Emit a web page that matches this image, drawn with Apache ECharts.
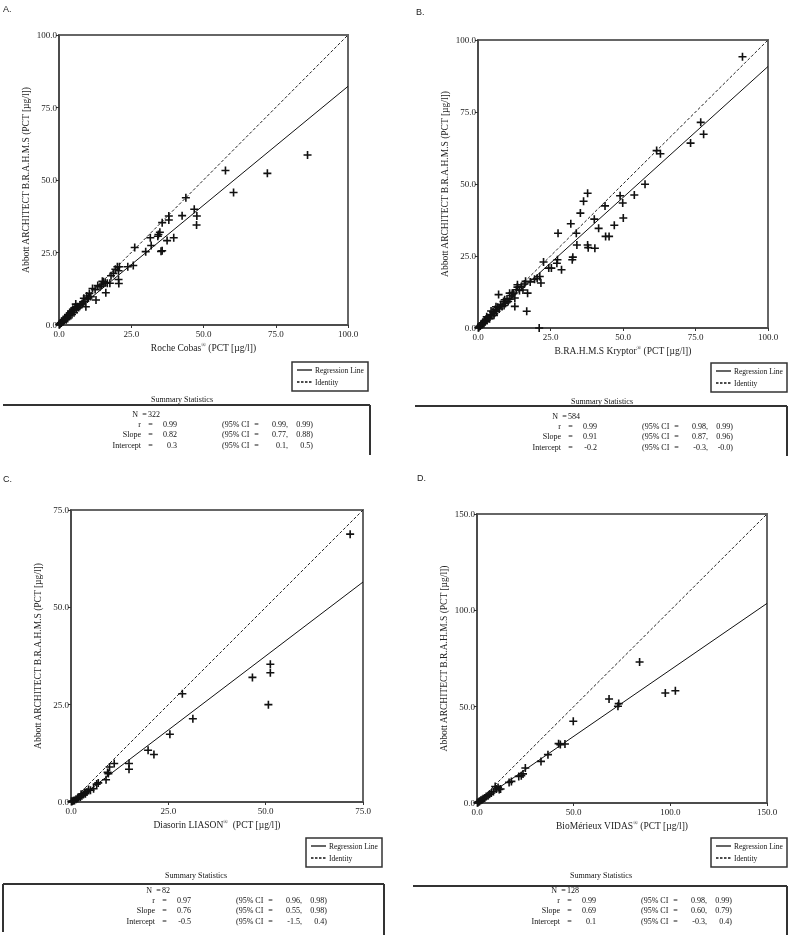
<!DOCTYPE html>
<html><head><meta charset="utf-8">
<script src="https://cdn.jsdelivr.net/npm/echarts@6/dist/echarts.min.js"></script>
<style>html,body{margin:0;padding:0;background:#fff}#c{width:791px;height:935px}#c svg{filter:grayscale(1)}</style>
</head><body><div id="c"></div>
<script>
// ---------- DATA ----------
const panelLabels = ['A.', 'B.', 'C.', 'D.'];
const xNames = ['Roche Cobas{s|®} (PCT [µg/l])', 'B.RA.H.M.S Kryptor{s|®} (PCT [µg/l])', 'Diasorin LIASON{s|®}  (PCT [µg/l])', 'BioMérieux VIDAS{s|®} (PCT [µg/l])'];
const yName = 'Abbott ARCHITECT B.R.A.H.M.S (PCT [µg/l])';
const axisMax = [100, 100, 75, 150];
const axisStep = [25, 25, 25, 50];
const slopes = [0.82, 0.91, 0.76, 0.69];
const intercepts = [0.3, -0.2, -0.5, 0.1];

const aX = [86.0,72.1,60.4,57.6,43.9,46.8,47.7,47.6,42.6,38.0,38.0,35.7,34.9,34.4,34.2,31.6,31.9,39.7,37.4,35.7,35.3,30.0,26.2,25.7,23.8,20.9,20.2,20.6,20.6,20.7,18.8,16.7,16.2,14.7,14.2,15.4,17.6,12.8,11.6,10.5,9.6,9.3,8.4,7.3,6.3,6.1,5.0,4.4,
  5.8,5.5,4.8,4.2,3.9,3.6,3.2,2.9,2.6,2.3,2.0,1.8,1.5,1.3,1.0,0.8,0.6,0.4,0.2,0.1,3.0,2.5,4.5,5.2,6.8,7.5,8.0,9.0,10.2,11.0,12.5,13.4,15.0,16.0,18.0,19.5,9.8,8.6];
const aY = [58.6,52.3,45.7,53.3,43.9,39.9,37.6,34.5,37.7,37.6,36.2,35.3,32.0,31.2,30.6,30.1,27.4,30.1,29.1,25.6,25.4,25.3,26.7,20.5,20.1,20.1,20.1,18.7,15.7,14.3,17.8,14.4,11.1,13.8,13.2,14.9,14.4,8.6,12.6,10.9,10.0,6.3,8.0,6.9,6.3,5.4,5.2,4.6,
  7.2,6.0,5.4,4.8,4.2,3.3,3.6,2.7,3.0,2.1,2.4,1.6,1.7,1.1,1.2,0.7,0.8,0.4,0.3,0.1,2.2,1.8,3.6,4.2,6.0,7.0,7.4,8.2,9.3,9.8,12.2,13.6,15.1,14.6,17.0,19.2,9.0,9.2];

const bX = [91.2,76.8,77.8,73.3,61.6,62.9,57.6,53.9,49.0,49.9,50.1,47.0,44.0,45.2,43.8,37.8,36.4,35.3,32.0,40.1,41.6,33.9,27.6,34.1,37.8,38.0,40.3,32.7,32.5,27.4,27.2,25.3,24.4,22.6,28.8,21.3,21.7,20.4,16.8,21.1,7.1,12.7,16.4,15.0,13.6,12.7,10.9,17.1,
  18.0,19.5,13.6,13.2,9.2,10.4,11.8,0.1,0.3,0.5,0.8,1.0,1.3,1.6,1.9,2.2,2.5,2.8,3.1,3.4,3.8,4.2,4.5,4.8,5.2,5.6,6.0,6.4,6.8,7.3,7.8,8.3,8.8,9.5,10.0,11.0,11.5,12.2,14.3,15.5,16.0,4.0,3.0,2.0,1.2,5.5,6.2,9.0];
const bY = [94.2,71.4,67.3,64.2,61.6,60.5,49.9,46.2,45.9,43.4,38.2,35.7,31.8,31.8,42.4,46.8,44.0,39.9,36.2,37.8,34.6,32.9,32.9,28.8,28.8,27.9,27.7,24.6,23.7,23.7,22.5,20.8,20.8,22.9,20.2,17.9,15.6,17.3,5.8,0.0,11.6,10.4,16.2,14.5,14.2,7.5,12.1,12.1,
  16.0,16.9,15.0,13.3,9.8,9.2,12.1,0.1,0.2,0.6,0.7,1.1,1.2,1.8,1.7,2.4,2.2,3.1,2.8,3.6,3.4,4.6,5.9,4.3,5.6,5.0,6.5,5.8,7.2,6.6,8.1,7.5,9.2,8.6,10.1,10.0,11.3,12.0,13.0,13.2,15.3,3.2,3.9,1.5,1.5,4.4,7.4,7.8];

const cX = [71.7,51.2,51.2,50.7,46.6,31.3,28.6,25.4,21.3,19.8,14.9,14.9,11.1,9.9,9.6,9.4,9.0,7.0,6.6,5.8,5.0,4.1,3.7,3.2,2.8,2.4,2.0,1.7,1.3,0.9,0.6,0.3,0.1,4.5,3.5,2.6];
const cY = [68.8,35.4,33.2,25.0,32.0,21.4,27.8,17.4,12.2,13.3,9.9,8.4,9.9,9.0,7.3,7.6,5.7,4.9,4.6,3.4,3.0,2.6,2.1,1.9,1.6,1.3,1.2,0.9,0.7,0.4,0.3,0.2,0.1,3.2,2.5,2.0];

const dX = [84.1,102.6,97.4,68.3,73.3,72.9,49.8,42.2,43.1,45.5,36.7,33.1,25.0,23.8,22.9,21.6,17.8,16.6,12.2,10.9,10.0,7.4,5.7,4.0,2.6,1.4,0.5,3.2,2.0,1.0,0.2,8.5,6.5,4.8,11.5,9.4];
const dY = [73.2,58.3,57.1,54.0,51.6,50.2,42.4,30.8,30.3,30.6,25.1,21.6,18.2,15.1,14.2,13.8,11.2,10.7,7.3,8.1,7.3,5.2,3.8,2.6,1.7,0.9,0.3,2.2,1.4,0.6,0.1,6.0,4.5,3.4,7.0,8.6];

const statN = ['322', '584', '82', '128'];
const statR = ['0.99', '0.99', '0.97', '0.99'];
const statSlope = ['0.82', '0.91', '0.76', '0.69'];
const statIntercept = ['0.3', '-0.2', '-0.5', '0.1'];
const ciR = [['0.99,', '0.99)'], ['0.98,', '0.99)'], ['0.96,', '0.98)'], ['0.98,', '0.99)']];
const ciSlope = [['0.77,', '0.88)'], ['0.87,', '0.96)'], ['0.55,', '0.98)'], ['0.60,', '0.79)']];
const ciIntercept = [['0.1,', '0.5)'], ['-0.3,', '-0.0)'], ['-1.5,', '0.4)'], ['-0.3,', '0.4)']];
const legendNames = ['Regression Line', 'Identity'];

// ---------- LAYOUT ----------
const xs = [aX, bX, cX, dX], ys = [aY, bY, cY, dY];
const grids = [
  {left: 59, top: 35, width: 289, height: 290},
  {left: 478, top: 40, width: 290, height: 288},
  {left: 71, top: 510, width: 292, height: 292},
  {left: 477, top: 514, width: 290, height: 289}
];
const labelPos = [[3, 4], [416, 7], [3, 474], [417, 473]];
const textOff = [[0, 0], [420, 2], [14, 476], [419, 476]];
const legendBox = [[292, 362], [711, 363], [306, 838], [711, 838]];
const statBox = [[3, 370, 405, 455], [415, 787, 406, 456], [3, 384, 884, 935], [413, 787, 886, 935]];
const statLeftEdge = [false, false, true, false];

const SERIF = '"Liberation Serif", "Times New Roman", serif';
const plusPath = 'path://M4,0h2v4h4v2h-4v4h-2v-4h-4v-2h4z';

const option = {
  animation: false,
  backgroundColor: '#fff',
  title: panelLabels.map((t, i) => ({
    text: t, left: labelPos[i][0], top: labelPos[i][1], padding: 0,
    textStyle: {fontFamily: '"Liberation Sans", Arial, sans-serif', fontSize: 9, fontWeight: 'normal', color: '#222'}
  })),
  grid: grids.map(g => Object.assign({show: true, borderColor: '#666', borderWidth: 2, backgroundColor: 'transparent'}, g)),
  xAxis: grids.map((g, i) => ({
    type: 'value', gridIndex: i, min: 0, max: axisMax[i], interval: axisStep[i],
    name: xNames[i], nameLocation: 'middle', nameGap: 17,
    nameTextStyle: {fontFamily: SERIF, fontSize: 9.5, color: '#222',
      rich: {s: {fontFamily: SERIF, fontSize: 6, color: '#222', padding: [0, 0, 5, 0]}}},
    axisLine: {show: true, lineStyle: {color: '#444', width: 1.5}},
    axisTick: {show: true, length: 3, lineStyle: {color: '#333'}},
    axisLabel: {fontFamily: SERIF, fontSize: 9, color: '#222', margin: 4, showMinLabel: true, showMaxLabel: true, formatter: v => v.toFixed(1)},
    splitLine: {show: false}
  })),
  yAxis: grids.map((g, i) => ({
    type: 'value', gridIndex: i, min: 0, max: axisMax[i], interval: axisStep[i],
    name: yName, nameLocation: 'middle', nameGap: 28, nameRotate: 90,
    nameTextStyle: {fontFamily: SERIF, fontSize: 9.5, color: '#222'},
    axisLine: {show: true, lineStyle: {color: '#444', width: 1.5}},
    axisTick: {show: true, length: 3, lineStyle: {color: '#333'}},
    axisLabel: {fontFamily: SERIF, fontSize: 9, color: '#222', margin: 2, showMinLabel: true, showMaxLabel: true, formatter: v => v.toFixed(1)},
    splitLine: {show: false}
  })),
  series: [],
  graphic: []
};

for (let i = 0; i < 4; i++) {
  const pts = xs[i].map((x, k) => [x, ys[i][k]]);
  const m = axisMax[i];
  option.series.push({
    type: 'line', xAxisIndex: i, yAxisIndex: i, symbol: 'none', clip: true,
    data: [[0, 0], [m, m]], lineStyle: {color: '#222', width: 1, type: [3, 2]}, z: 2
  });
  option.series.push({
    type: 'line', xAxisIndex: i, yAxisIndex: i, symbol: 'none', clip: true,
    data: [[0, intercepts[i]], [m, intercepts[i] + slopes[i] * m]], lineStyle: {color: '#111', width: 1}, z: 2
  });
  option.series.push({
    type: 'scatter', xAxisIndex: i, yAxisIndex: i, symbol: plusPath, symbolSize: 8,
    data: pts, itemStyle: {color: '#111', opacity: 1}, z: 3
  });

  // legend box
  const [lx, ly] = legendBox[i];
  const els = [];
  els.push({type: 'rect', shape: {x: lx, y: ly, width: 76, height: 29}, style: {fill: '#fff', stroke: '#333', lineWidth: 1.5}});
  els.push({type: 'line', shape: {x1: lx + 5, y1: ly + 8, x2: lx + 20, y2: ly + 8}, style: {stroke: '#111', lineWidth: 1.3}});
  els.push({type: 'line', shape: {x1: lx + 5, y1: ly + 20, x2: lx + 20, y2: ly + 20}, style: {stroke: '#111', lineWidth: 1.3, lineDash: [2.5, 1.5]}});
  const legFont = '7.5px ' + SERIF;
  els.push({type: 'text', style: {text: legendNames[0], x: lx + 23, y: ly + 8, font: legFont, fill: '#111', textVerticalAlign: 'middle', verticalAlign: 'middle'}});
  els.push({type: 'text', style: {text: legendNames[1], x: lx + 23, y: ly + 20, font: legFont, fill: '#111', textVerticalAlign: 'middle', verticalAlign: 'middle'}});

  // stats box
  const [sl, sr, st, sb] = statBox[i];
  els.push({type: 'line', shape: {x1: sl, y1: st, x2: sr, y2: st}, style: {stroke: '#333', lineWidth: 2}});
  els.push({type: 'line', shape: {x1: sr, y1: st, x2: sr, y2: sb}, style: {stroke: '#333', lineWidth: 2}});
  if (statLeftEdge[i]) els.push({type: 'line', shape: {x1: sl, y1: st, x2: sl, y2: sb - 3}, style: {stroke: '#333', lineWidth: 2}});

  const [ox, oy] = textOff[i];
  const f = '8px ' + SERIF;
  const T = (text, x, y, align) => ({type: 'text', style: {text, x: x + ox, y: y + oy, font: f, fill: '#111', textAlign: align, align, textVerticalAlign: 'middle', verticalAlign: 'middle'}});
  els.push(T('Summary Statistics', 182, 399, 'center'));
  els.push(T('N', 138, 414, 'right'));
  els.push(T('=', 144.5, 414, 'center'));
  els.push(T(statN[i], 148, 414, 'left'));
  const rows = [['r', statR[i], ciR[i], 424], ['Slope', statSlope[i], ciSlope[i], 434.5], ['Intercept', statIntercept[i], ciIntercept[i], 445]];
  rows.forEach(([lab, val, ci, y]) => {
    els.push(T(lab, 141, y, 'right'));
    els.push(T('=', 150.5, y, 'center'));
    els.push(T(val, 177, y, 'right'));
    els.push(T('(95% CI', 222, y, 'left'));
    els.push(T('=', 256.5, y, 'center'));
    els.push(T(ci[0], 288, y, 'right'));
    els.push(T(ci[1], 313, y, 'right'));
  });
  option.graphic.push(...els);
}

const chart = echarts.init(document.getElementById('c'), null, {renderer: 'svg'});
chart.setOption(option);
</script>
</body></html>
